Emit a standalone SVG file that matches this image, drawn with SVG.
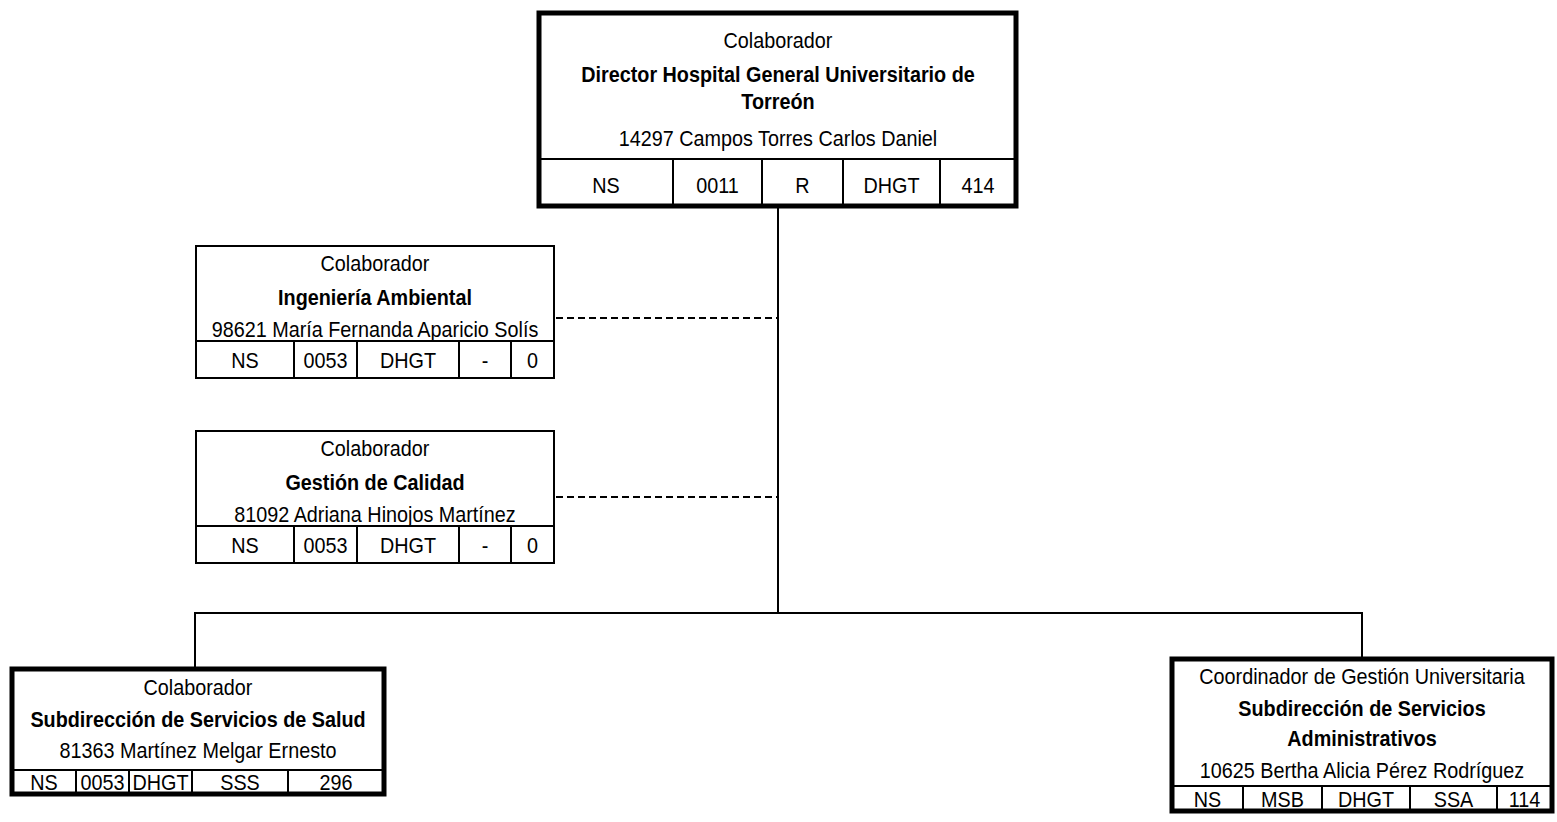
<svg xmlns="http://www.w3.org/2000/svg" width="1557" height="822" viewBox="0 0 1557 822">
<style>
  text { font-family: "Liberation Sans", Arial, sans-serif; font-size: 22px; fill: #000; text-anchor: middle; }
  .b { font-weight: bold; }
  .thick { fill: #fff; stroke: #000; stroke-width: 5; }
  .thin { fill: #fff; stroke: #000; stroke-width: 2; }
  .ln { stroke: #000; stroke-width: 2; fill: none; }
  .dash { stroke: #000; stroke-width: 2; fill: none; stroke-dasharray: 7 4; }
</style>
<rect width="1557" height="822" fill="#fff"/>
<g id="connectors">
  <line class="ln" x1="778" y1="206" x2="778" y2="613"/>
  <polyline class="ln" points="195,669 195,613 1362,613 1362,659"/>
  <line class="dash" x1="556" y1="318" x2="778" y2="318"/>
  <line class="dash" x1="556" y1="497" x2="778" y2="497"/>
</g>
<g id="director">
  <rect class="thick" x="539" y="13" width="477" height="193"/>
  <line class="ln" x1="539" y1="159" x2="1016" y2="159"/>
  <line class="ln" x1="673" y1="159" x2="673" y2="206"/>
  <line class="ln" x1="762" y1="159" x2="762" y2="206"/>
  <line class="ln" x1="843" y1="159" x2="843" y2="206"/>
  <line class="ln" x1="940" y1="159" x2="940" y2="206"/>
  <text transform="matrix(0.9 0 0 1 778 0)" y="48">Colaborador</text>
  <text class="b" transform="matrix(0.9 0 0 1 778 0)" y="82">Director Hospital General Universitario de</text>
  <text class="b" transform="matrix(0.9 0 0 1 778 0)" y="109">Torreón</text>
  <text transform="matrix(0.9 0 0 1 778 0)" y="146">14297 Campos Torres Carlos Daniel</text>
  <text transform="matrix(0.9 0 0 1 606 0)" y="193">NS</text>
  <text transform="matrix(0.9 0 0 1 717.5 0)" y="193">0011</text>
  <text transform="matrix(0.9 0 0 1 802.5 0)" y="193">R</text>
  <text transform="matrix(0.9 0 0 1 891.5 0)" y="193">DHGT</text>
  <text transform="matrix(0.9 0 0 1 978 0)" y="193">414</text>
</g>
<g id="ingenieria">
  <rect class="thin" x="196" y="246" width="358" height="132"/>
  <line class="ln" x1="196" y1="341" x2="554" y2="341"/>
  <line class="ln" x1="294" y1="341" x2="294" y2="378"/>
  <line class="ln" x1="357" y1="341" x2="357" y2="378"/>
  <line class="ln" x1="459" y1="341" x2="459" y2="378"/>
  <line class="ln" x1="511" y1="341" x2="511" y2="378"/>
  <text transform="matrix(0.9 0 0 1 375 0)" y="271">Colaborador</text>
  <text class="b" transform="matrix(0.9 0 0 1 375 0)" y="305">Ingeniería Ambiental</text>
  <text transform="matrix(0.9 0 0 1 375 0)" y="337">98621 María Fernanda Aparicio Solís</text>
  <text transform="matrix(0.9 0 0 1 245 0)" y="368">NS</text>
  <text transform="matrix(0.9 0 0 1 325.5 0)" y="368">0053</text>
  <text transform="matrix(0.9 0 0 1 408 0)" y="368">DHGT</text>
  <text transform="matrix(0.9 0 0 1 485 0)" y="368">-</text>
  <text transform="matrix(0.9 0 0 1 532.5 0)" y="368">0</text>
</g>
<g id="calidad">
  <rect class="thin" x="196" y="431" width="358" height="132"/>
  <line class="ln" x1="196" y1="526" x2="554" y2="526"/>
  <line class="ln" x1="294" y1="526" x2="294" y2="563"/>
  <line class="ln" x1="357" y1="526" x2="357" y2="563"/>
  <line class="ln" x1="459" y1="526" x2="459" y2="563"/>
  <line class="ln" x1="511" y1="526" x2="511" y2="563"/>
  <text transform="matrix(0.9 0 0 1 375 0)" y="456">Colaborador</text>
  <text class="b" transform="matrix(0.9 0 0 1 375 0)" y="490">Gestión de Calidad</text>
  <text transform="matrix(0.9 0 0 1 375 0)" y="522">81092 Adriana Hinojos Martínez</text>
  <text transform="matrix(0.9 0 0 1 245 0)" y="553">NS</text>
  <text transform="matrix(0.9 0 0 1 325.5 0)" y="553">0053</text>
  <text transform="matrix(0.9 0 0 1 408 0)" y="553">DHGT</text>
  <text transform="matrix(0.9 0 0 1 485 0)" y="553">-</text>
  <text transform="matrix(0.9 0 0 1 532.5 0)" y="553">0</text>
</g>
<g id="salud">
  <rect class="thick" x="12" y="669" width="372" height="125"/>
  <line class="ln" x1="12" y1="770" x2="384" y2="770"/>
  <line class="ln" x1="76" y1="770" x2="76" y2="794"/>
  <line class="ln" x1="129" y1="770" x2="129" y2="794"/>
  <line class="ln" x1="192" y1="770" x2="192" y2="794"/>
  <line class="ln" x1="288" y1="770" x2="288" y2="794"/>
  <text transform="matrix(0.9 0 0 1 198 0)" y="695">Colaborador</text>
  <text class="b" transform="matrix(0.9 0 0 1 198 0)" y="727">Subdirección de Servicios de Salud</text>
  <text transform="matrix(0.9 0 0 1 198 0)" y="758">81363 Martínez Melgar Ernesto</text>
  <text transform="matrix(0.9 0 0 1 44 0)" y="790">NS</text>
  <text transform="matrix(0.9 0 0 1 102.5 0)" y="790">0053</text>
  <text transform="matrix(0.9 0 0 1 160.5 0)" y="790">DHGT</text>
  <text transform="matrix(0.9 0 0 1 240 0)" y="790">SSS</text>
  <text transform="matrix(0.9 0 0 1 336 0)" y="790">296</text>
</g>
<g id="administrativos">
  <rect class="thick" x="1172" y="659" width="380" height="152"/>
  <line class="ln" x1="1172" y1="786" x2="1552" y2="786"/>
  <line class="ln" x1="1243" y1="786" x2="1243" y2="811"/>
  <line class="ln" x1="1322" y1="786" x2="1322" y2="811"/>
  <line class="ln" x1="1410" y1="786" x2="1410" y2="811"/>
  <line class="ln" x1="1497" y1="786" x2="1497" y2="811"/>
  <text transform="matrix(0.9 0 0 1 1362 0)" y="684">Coordinador de Gestión Universitaria</text>
  <text class="b" transform="matrix(0.9 0 0 1 1362 0)" y="716">Subdirección de Servicios</text>
  <text class="b" transform="matrix(0.9 0 0 1 1362 0)" y="746">Administrativos</text>
  <text transform="matrix(0.9 0 0 1 1362 0)" y="778">10625 Bertha Alicia Pérez Rodríguez</text>
  <text transform="matrix(0.9 0 0 1 1207.5 0)" y="807">NS</text>
  <text transform="matrix(0.9 0 0 1 1282.5 0)" y="807">MSB</text>
  <text transform="matrix(0.9 0 0 1 1366 0)" y="807">DHGT</text>
  <text transform="matrix(0.9 0 0 1 1453.5 0)" y="807">SSA</text>
  <text transform="matrix(0.9 0 0 1 1524.5 0)" y="807">114</text>
</g>
</svg>
